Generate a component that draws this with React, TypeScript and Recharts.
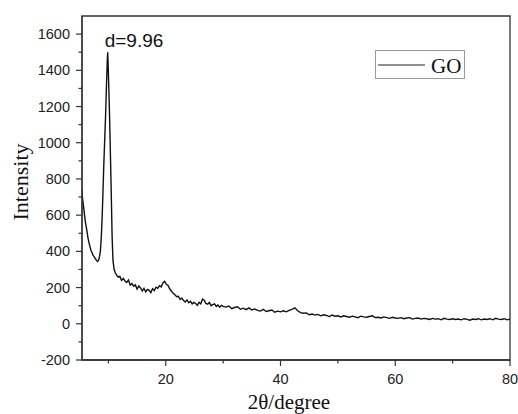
import { LineChart, Line, XAxis, YAxis, ReferenceArea, ReferenceDot, Legend } from 'recharts'

// 2θ sampling positions (degree)
const twoTheta = [
  // low-angle shoulder and the GO (001) peak
  5.4, 5.5, 5.7, 5.87, 6.0, 6.17, 6.3, 6.4, 6.6, 6.8,
  6.97, 7.15, 7.35, 7.56, 7.75, 7.95, 8.14, 8.3, 8.45, 8.6,
  8.75, 8.9, 9.05, 9.2, 9.35, 9.5, 9.65, 9.8, 9.88, 9.95,
  10.05, 10.2, 10.35, 10.5, 10.65, 10.8, 11.0, 11.2, 11.4, 11.6,
  11.8,
  // broad hump region
  12.0, 12.3, 12.6, 12.9, 13.2, 13.5, 13.8, 14.1, 14.4, 14.7,
  15.0, 15.3, 15.6, 15.9, 16.2, 16.5, 16.8, 17.1, 17.4, 17.7,
  18.0, 18.3, 18.6, 18.9, 19.2, 19.5, 19.8, 20.1, 20.4, 20.7,
  21.0, 21.3, 21.6, 21.9, 22.2, 22.5, 22.8, 23.1, 23.4, 23.7,
  24.0, 24.3, 24.6, 24.9, 25.2, 25.5, 25.8, 26.1, 26.4, 26.7,
  27.0, 27.3, 27.6, 27.9, 28.2, 28.5, 28.8, 29.1, 29.4, 29.7,
  30.0,
  // tail
  30.5, 31.0, 31.5, 32.0, 32.5, 33.0, 33.5, 34.0, 34.5, 35.0,
  35.5, 36.0, 36.5, 37.0, 37.5, 38.0, 38.5, 39.0, 39.5, 40.0,
  40.5, 41.0, 41.5, 42.0, 42.5, 43.0, 43.5, 44.0, 44.5, 45.0,
  45.5, 46.0, 46.5, 47.0, 47.5, 48.0, 48.5, 49.0, 49.5, 50.0,
  50.5, 51.0, 51.5, 52.0, 52.5, 53.0, 53.5, 54.0, 54.5, 55.0,
  55.5, 56.0, 56.5, 57.0, 57.5, 58.0, 58.5, 59.0, 59.5, 60.0,
  60.5, 61.0, 61.5, 62.0, 62.5, 63.0, 63.5, 64.0, 64.5, 65.0,
  65.5, 66.0, 66.5, 67.0, 67.5, 68.0, 68.5, 69.0, 69.5, 70.0,
  70.5, 71.0, 71.5, 72.0, 72.5, 73.0, 73.5, 74.0, 74.5, 75.0,
  75.5, 76.0, 76.5, 77.0, 77.5, 78.0, 78.5, 79.0, 79.5, 80.0,
]

// GO intensity (counts)
const intensity = [
  740, 690, 640, 592, 560, 530, 505, 482, 450, 425,
  405, 392, 378, 368, 358, 350, 344, 352, 372, 400,
  470, 580, 720, 880, 1010, 1140, 1300, 1450, 1500, 1440,
  1330, 1150, 940, 720, 480, 350, 300, 282, 270, 262,
  258,
  262, 240, 251, 236, 228, 242, 214, 222, 208, 215,
  192, 209, 198, 182, 196, 176, 190, 185, 172, 194,
  184, 202, 196, 210, 204, 226, 234, 218, 212, 192,
  180, 168, 160, 150, 152, 134, 142, 128, 120, 132,
  116, 124, 110, 118, 112, 102, 118, 110, 136, 130,
  112, 108, 118, 100, 106, 110, 96, 104, 92, 102,
  96,
  92, 98, 84, 90, 94, 80, 86, 78, 88, 76,
  82, 74, 70, 80, 68, 72, 76, 64, 70, 66,
  72, 66, 74, 80, 88, 72, 62, 58, 60, 50,
  54, 48, 52, 44, 50, 46, 40, 48, 42, 44,
  38, 44, 40, 36, 42, 38, 34, 42, 38, 36,
  40, 44, 34, 36, 32, 38, 34, 30, 36, 32,
  30, 34, 28, 32, 34, 26, 30, 32, 26, 30,
  28, 24, 30, 26, 28, 22, 30, 26, 24, 28,
  24, 26, 22, 28, 24, 20, 26, 24, 28, 22,
  26, 24, 28, 22, 30, 26, 24, 28, 22, 26,
]

const xTicks = [10, 20, 30, 40, 50, 60, 70, 80]
const xTickLabels = [20, 40, 60, 80]
const yTicks = [-200, -100, 0, 100, 200, 300, 400, 500, 600, 700, 800, 900, 1000, 1100, 1200, 1300, 1400, 1500, 1600]
const yTickLabels = [-200, 0, 200, 400, 600, 800, 1000, 1200, 1400, 1600]

const seriesName = 'GO'
const peakText = 'd=9.96'
const peakPos = { t: 9.88, v: 1500 }

const sans = '"Liberation Sans", Arial, sans-serif'
const serif = '"Liberation Serif", "Times New Roman", serif'
const axisColor = '#333'

const data = twoTheta.map((t, i) => ({ t, intensity: intensity[i] }))

function XTick({ x, y, payload }: any) {
  const major = xTickLabels.includes(payload.value)
  return (
    <g>
      <line x1={x} x2={x} y1={y} y2={y + (major ? 6 : 3.5)} stroke={axisColor} strokeWidth={1.2} />
      {major && (
        <text x={x} y={y + 24} textAnchor="middle" fontSize={14.5} fontFamily={sans} fill="#222">
          {payload.value}
        </text>
      )}
    </g>
  )
}

function YTick({ x, y, payload }: any) {
  const major = yTickLabels.includes(payload.value)
  return (
    <g>
      <line x1={x - (major ? 6 : 3.5)} x2={x} y1={y} y2={y} stroke={axisColor} strokeWidth={1.2} />
      {major && (
        <text x={x - 12} y={y} dy={5} textAnchor="end" fontSize={14.5} fontFamily={sans} fill="#222">
          {payload.value}
        </text>
      )}
    </g>
  )
}

function GoLegend() {
  return (
    <div style={{ width: 90, height: 29, border: '1px solid #9a9a9a', boxSizing: 'border-box', background: '#fff', position: 'relative' }}>
      <svg width={88} height={27} style={{ position: 'absolute', left: 0, top: 0 }}>
        <line x1={2} x2={49} y1={14} y2={14} stroke="#222" strokeWidth={1.2} />
        <text x={55} y={22} fontSize={21} fontFamily={serif} fill="#111">{seriesName}</text>
      </svg>
    </div>
  )
}

export default function App() {
  return (
    <div style={{ position: 'absolute', left: 0, top: 0, width: 518, height: 414, background: '#fff' }}>
      <LineChart width={518} height={414} data={data} margin={{ top: 16, right: 8, bottom: 24, left: 0 }}>
        <XAxis
          dataKey="t"
          type="number"
          domain={[5.4, 80]}
          allowDataOverflow
          ticks={xTicks}
          interval={0}
          height={30}
          tickSize={0}
          tickMargin={0}
          tickLine={false}
          axisLine={{ stroke: axisColor, strokeWidth: 1.3 }}
          tick={<XTick />}
          label={{
            content: ({ viewBox }: any) => (
              <text x={viewBox.x + viewBox.width / 2 - 7} y={viewBox.y + 49} textAnchor="middle" fontSize={21} fontFamily={serif} fill="#111">
                2θ/degree
              </text>
            ),
          }}
        />
        <YAxis
          type="number"
          domain={[-200, 1700]}
          allowDataOverflow
          ticks={yTicks}
          interval={0}
          width={82}
          tickSize={0}
          tickMargin={0}
          tickLine={false}
          axisLine={{ stroke: axisColor, strokeWidth: 1.3 }}
          tick={<YTick />}
          label={{
            content: ({ viewBox }: any) => {
              const cx = 28
              const cy = viewBox.y + viewBox.height / 2 - 6
              return (
                <text x={cx} y={cy} transform={`rotate(-90, ${cx}, ${cy})`} textAnchor="middle" fontSize={22} fontFamily={serif} fill="#111">
                  Intensity
                </text>
              )
            },
          }}
        />
        <ReferenceArea x1={5.4} x2={80} y1={-200} y2={1700} fill="none" stroke={axisColor} strokeWidth={1.3} />
        <Line
          type="linear"
          dataKey="intensity"
          name={seriesName}
          stroke="#111"
          strokeWidth={1.4}
          dot={false}
          isAnimationActive={false}
        />
        <ReferenceDot
          x={peakPos.t}
          y={peakPos.v}
          r={0}
          fill="none"
          stroke="none"
          label={{
            content: ({ viewBox }: any) => (
              <text x={viewBox.x - 3} y={viewBox.y - 5} fontSize={19} fontFamily={sans} fill="#111">
                {peakText}
              </text>
            ),
          }}
        />
        <Legend
          layout="horizontal"
          verticalAlign="middle"
          align="center"
          content={<GoLegend />}
          wrapperStyle={{ left: 375, top: 50, width: 90, height: 29 }}
        />
      </LineChart>
    </div>
  )
}
